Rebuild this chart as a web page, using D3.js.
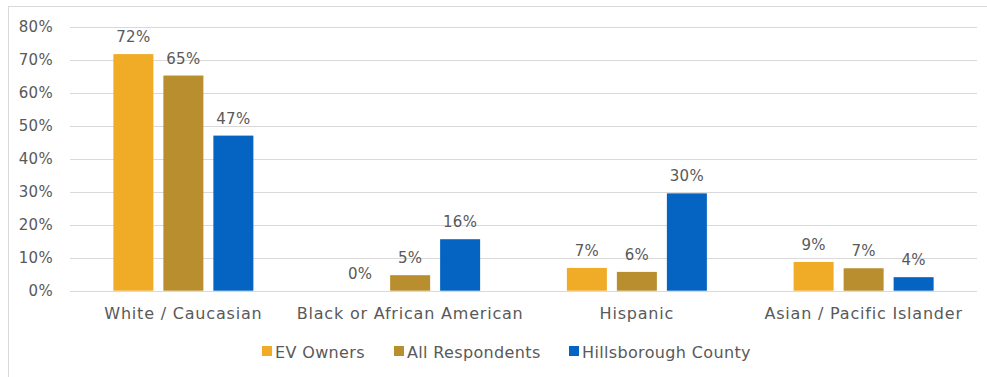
<!DOCTYPE html>
<html>
<head>
<meta charset="utf-8">
<script src="https://cdn.jsdelivr.net/npm/d3@7"></script>
<style>
  html, body { margin: 0; padding: 0; background: #fff; }
  svg text { font-family: "DejaVu Sans", "Noto Sans", sans-serif; fill: #595959; }
</style>
</head>
<body>
<svg id="chart" width="987" height="377"></svg>
<script>
// Ethnicity breakdown: EV owners vs. all survey respondents vs. county population
const categories = ["White / Caucasian", "Black or African American", "Hispanic", "Asian / Pacific Islander"];
const seriesNames = ["EV Owners", "All Respondents", "Hillsborough County"];
const evOwners = [71.7, 0, 6.9, 8.7];
const allRespondents = [65.2, 4.7, 5.7, 6.8];
const hillsborough = [47.0, 15.6, 29.5, 4.1];
const yTicks = [0, 10, 20, 30, 40, 50, 60, 70, 80];
const colors = ["#F0AC27", "#B98E2F", "#0563C1"];

const seriesValues = [evOwners, allRespondents, hillsborough];
const FONT = "'DejaVu Sans', 'Noto Sans', sans-serif";

const svg = d3.select("#chart");
const W = 987, H = 377;

// chart frame
svg.append("rect")
  .attr("x", 8.5).attr("y", 6.5)
  .attr("width", W - 8).attr("height", H - 6)
  .attr("fill", "none").attr("stroke", "#d9d9d9");

const plot = { left: 70, right: 977, top: 26.7, bottom: 290.7 };

const x = d3.scaleBand().domain(categories).range([plot.left, plot.right]);
const y = d3.scaleLinear().domain([0, 80]).range([plot.bottom, plot.top]);

const barW = 40, gap = 10;
const inner = d3.scaleBand().domain(seriesNames)
  .range([0, 3 * barW + 2 * gap]).paddingInner(gap / (barW + gap)).paddingOuter(0);

// gridlines
svg.append("g").selectAll("line").data(yTicks).join("line")
  .attr("x1", plot.left).attr("x2", plot.right)
  .attr("y1", d => Math.round(y(d)) + 0.5).attr("y2", d => Math.round(y(d)) + 0.5)
  .attr("stroke", "#d9d9d9").attr("stroke-width", 1);

// y axis labels
const yAxis = d3.axisLeft(y).tickValues(yTicks).tickFormat(d => d + "%").tickSize(0).tickPadding(0);
const yg = svg.append("g").attr("transform", `translate(${plot.left - 17},0)`).call(yAxis);
yg.select(".domain").remove();
yg.selectAll("text").attr("font-size", 15).attr("fill", "#595959").attr("dy", "0.35em")
  .attr("letter-spacing", 0.3)
  .style("font-family", FONT);

// x axis labels
const xAxis = d3.axisBottom(x).tickSize(0).tickPadding(0);
const xg = svg.append("g").attr("transform", `translate(0,${plot.bottom})`).call(xAxis);
xg.select(".domain").remove();
xg.selectAll("text").attr("font-size", 16).attr("fill", "#595959").attr("y", 28).attr("dy", 0)
  .attr("letter-spacing", 0.8)
  .style("font-family", FONT);

// bars
const groupOffset = (x.bandwidth() - inner.range()[1]) / 2;
const groups = svg.append("g").selectAll("g").data(categories).join("g")
  .attr("transform", c => `translate(${x(c) + groupOffset},0)`);

const cells = groups.selectAll("g.cell")
  .data((c, ci) => seriesNames.map((s, si) => ({ s, si, v: seriesValues[si][ci] })))
  .join("g").attr("class", "cell");

cells.append("rect")
  .attr("x", d => inner(d.s))
  .attr("width", inner.bandwidth())
  .attr("y", d => y(d.v))
  .attr("height", d => y(0) - y(d.v))
  .attr("fill", d => colors[d.si]);

cells.append("text")
  .attr("x", d => inner(d.s) + inner.bandwidth() / 2)
  .attr("y", d => y(d.v) - 12)
  .attr("text-anchor", "middle")
  .attr("font-size", 15)
  .attr("letter-spacing", 0.3)
  .text(d => Math.round(d.v) + "%");

// legend
const legendItems = [
  { name: seriesNames[0], x: 262 },
  { name: seriesNames[1], x: 394 },
  { name: seriesNames[2], x: 569 }
];
const lg = svg.append("g").selectAll("g").data(legendItems).join("g")
  .attr("transform", d => `translate(${d.x},${346})`);
lg.append("rect").attr("width", 10).attr("height", 10).attr("fill", (d, i) => colors[i]);
lg.append("text").attr("x", 13).attr("y", 11.5).attr("font-size", 16)
  .attr("letter-spacing", 0.35).text(d => d.name);
</script>
</body>
</html>
